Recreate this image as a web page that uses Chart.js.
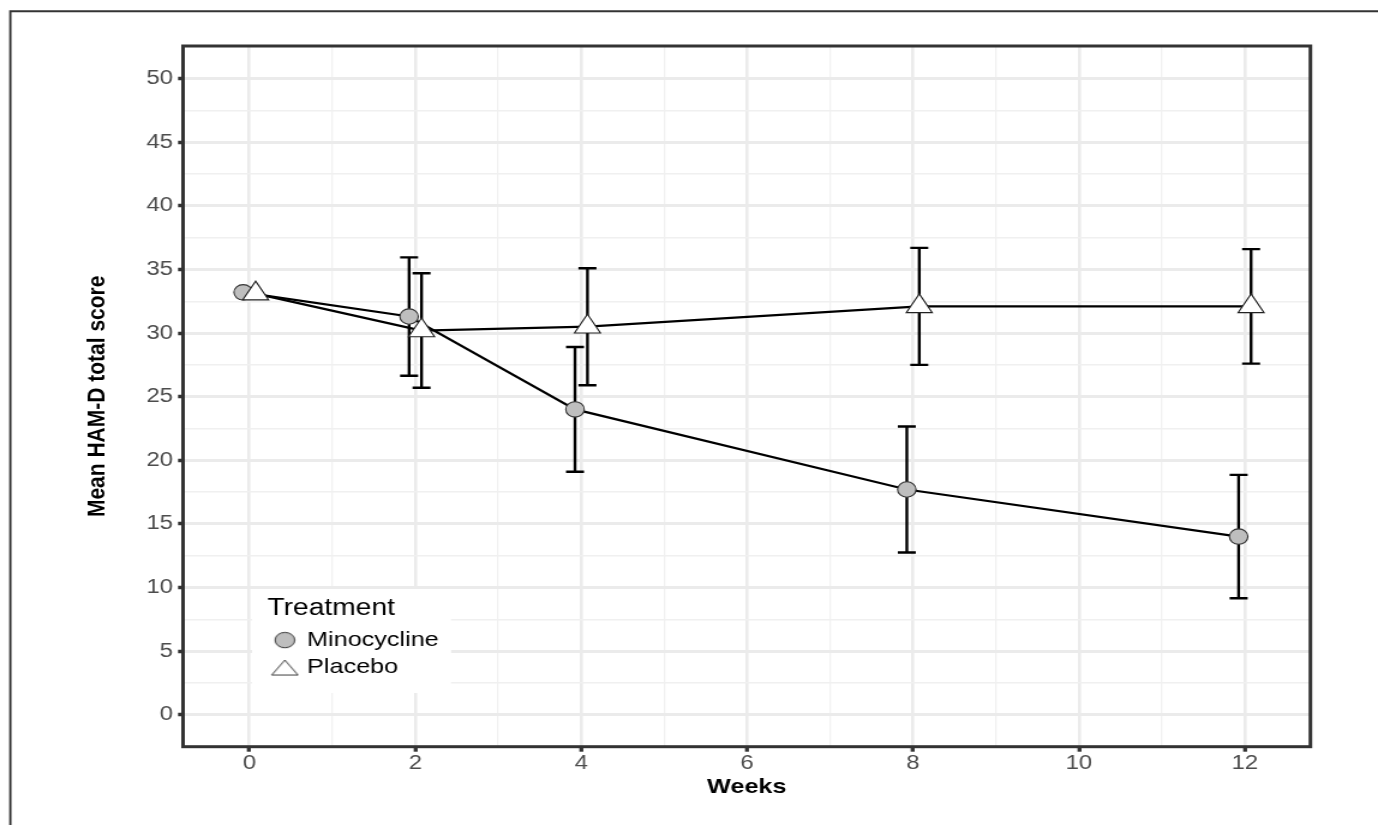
<!DOCTYPE html>
<html>
<head>
<meta charset="utf-8">
<title>Mean HAM-D total score by week</title>
<script src="https://cdn.jsdelivr.net/npm/chart.js@4.4.1/dist/chart.umd.min.js"></script>
<style>
  html, body { margin: 0; padding: 0; background: #fff; }
  #hamd { display: block; }
</style>
</head>
<body>
<!-- drawn at 1148 wide and stretched to 1378, like the original figure -->
<canvas id="hamd" width="1148" height="825" style="width:1378px;height:825px"></canvas>
<script>
const weeks = [0, 2, 4, 8, 12];
const seriesNames = ['Minocycline', 'Placebo'];
const minoMean = [33.2, 31.3, 24.0, 17.7, 14.0];
const minoErr = [null, 4.65, 4.9, 4.95, 4.85];
const placeboMean = [33.1, 30.2, 30.5, 32.1, 32.1];
const placeboErr = [null, 4.5, 4.6, 4.6, 4.5];
const xTicks = [0, 2, 4, 6, 8, 10, 12];
const yTicks = [0, 5, 10, 15, 20, 25, 30, 35, 40, 45, 50];

const FONT = '"Liberation Sans", Arial, Helvetica, sans-serif';
const dodge = 0.075;

// majors plus a minor tick halfway between each pair (ggplot style)
function withMinors(major) {
  const out = [];
  major.forEach((v, i) => {
    out.push({ value: v });
    if (i < major.length - 1) out.push({ value: (v + major[i + 1]) / 2, minor: true });
  });
  return out;
}

function marker(kind, w, h, fill) {
  const c = document.createElement('canvas');
  c.width = Math.ceil(w + 2);
  c.height = Math.ceil(h + 2);
  const g = c.getContext('2d');
  g.fillStyle = fill;
  g.strokeStyle = '#333';
  g.lineWidth = 1;
  g.beginPath();
  if (kind === 'circle') {
    g.ellipse(c.width / 2, c.height / 2, w / 2, h / 2, 0, 0, Math.PI * 2);
  } else {
    g.moveTo(c.width / 2, 1);
    g.lineTo(c.width / 2 + w / 2, h + 1);
    g.lineTo(c.width / 2 - w / 2, h + 1);
    g.closePath();
  }
  g.fill();
  g.stroke();
  return c;
}
const legendMarks = [marker('circle', 16.4, 15.4, '#bebebe'), marker('triangle', 22, 15, '#fff')];

const legendBox = { left: 222.8, top: 597.25, right: 375.8, bottom: 693 };

const gridColor = ctx => ctx.tick && ctx.tick.minor ? '#f0f0f0' : '#ebebeb';
const tickColor = ctx => ctx.tick && ctx.tick.minor ? 'rgba(0,0,0,0)' : '#333';
const tickLabel = (v, i, ticks) => ticks[i].minor ? '' : v;

const extras = {
  id: 'extras',
  afterLayout(chart) {
    const lg = chart.legend;
    Object.assign(lg, legendBox);
    lg.width = legendBox.right - legendBox.left;
    lg.height = legendBox.bottom - legendBox.top;
  },
  beforeDatasetsDraw(chart) {
    const { ctx } = chart;
    // legend key sits on a white box over the grid
    ctx.save();
    ctx.fillStyle = '#fff';
    ctx.fillRect(210, 589, 165.8, 104);
    ctx.restore();
    chart.legend.draw();

    const xs = chart.scales.x, ys = chart.scales.y;
    ctx.save();
    ctx.strokeStyle = '#000';
    ctx.lineWidth = 2.4;
    chart.data.datasets.forEach(ds => {
      ds.data.forEach((p, i) => {
        const e = ds.errors[i];
        if (e == null) return;
        const x = xs.getPixelForValue(p.x);
        const y1 = ys.getPixelForValue(p.y + e);
        const y2 = ys.getPixelForValue(p.y - e);
        ctx.beginPath();
        ctx.moveTo(x, y1); ctx.lineTo(x, y2);
        ctx.moveTo(x - 7.5, y1); ctx.lineTo(x + 7.5, y1);
        ctx.moveTo(x - 7.5, y2); ctx.lineTo(x + 7.5, y2);
        ctx.stroke();
      });
    });
    ctx.restore();
  },
  afterDraw(chart) {
    const { ctx, chartArea: a } = chart;
    ctx.save();
    ctx.strokeStyle = '#333';
    ctx.lineWidth = 3;
    ctx.strokeRect(a.left, a.top, a.right - a.left, a.bottom - a.top);
    // outer frame of the figure (only top and left show)
    ctx.lineWidth = 1.9;
    ctx.beginPath();
    ctx.moveTo(8.6, 825);
    ctx.lineTo(8.6, 11.2);
    ctx.lineTo(1148, 11.2);
    ctx.stroke();
    ctx.restore();
  }
};

const ctx = document.getElementById('hamd').getContext('2d');
const chart = new Chart(ctx, {
  type: 'line',
  data: {
    datasets: [
      {
        label: seriesNames[0],
        data: weeks.map((w, i) => ({ x: w - dodge, y: minoMean[i] })),
        errors: minoErr,
        order: 1,
        borderColor: '#000',
        borderWidth: 2.2,
        tension: 0,
        pointStyle: 'circle',
        pointRadius: 7.7,
        pointBackgroundColor: '#bebebe',
        pointBorderColor: '#333',
        pointBorderWidth: 1.1
      },
      {
        label: seriesNames[1],
        data: weeks.map((w, i) => ({ x: w + dodge, y: placeboMean[i] })),
        errors: placeboErr,
        order: 0,
        borderColor: '#000',
        borderWidth: 2.2,
        tension: 0,
        pointStyle: 'triangle',
        pointRadius: 12.5,
        pointBackgroundColor: '#fff',
        pointBorderColor: '#222',
        pointBorderWidth: 1.1
      }
    ]
  },
  options: {
    responsive: false,
    animation: false,
    devicePixelRatio: 1,
    events: [],
    layout: { padding: { top: 46, right: 56.33, bottom: 0, left: 0 } },
    scales: {
      x: {
        type: 'linear',
        min: -0.8,
        max: 12.79,
        afterBuildTicks: s => { s.ticks = withMinors(xTicks); },
        afterFit: s => { s.height = 78.3; },
        border: { display: false },
        grid: {
          color: gridColor,
          lineWidth: c => c.tick && c.tick.minor ? 1.3 : 2.6,
          tickColor: tickColor,
          tickWidth: 3.3,
          tickLength: 5
        },
        ticks: { autoSkip: false, maxRotation: 0, padding: 0, color: '#4d4d4d', font: { family: FONT, size: 20 }, callback: tickLabel },
        title: { display: true, text: 'Weeks', color: '#000', font: { family: FONT, size: 21, weight: 'bold' }, padding: { top: 0, bottom: 25.4 } }
      },
      y: {
        type: 'linear',
        min: -2.52,
        max: 52.57,
        afterBuildTicks: s => { s.ticks = withMinors(yTicks); },
        afterFit: s => { s.width = 152.5; },
        border: { display: false },
        grid: {
          color: gridColor,
          lineWidth: c => c.tick && c.tick.minor ? 1.5 : 3,
          tickColor: tickColor,
          tickWidth: 3.5,
          tickLength: 4.2
        },
        ticks: { autoSkip: false, padding: 4.1, color: '#4d4d4d', font: { family: FONT, size: 20 }, callback: tickLabel },
        title: { display: true, text: 'Mean HAM-D total score', color: '#000', font: { family: FONT, size: 21, weight: 'bold' }, padding: { top: 68.9, bottom: 0 } }
      }
    },
    plugins: {
      tooltip: { enabled: false },
      legend: {
        position: 'chartArea',
        align: 'start',
        title: {
          display: true,
          text: 'Treatment',
          position: 'start',
          color: '#000',
          padding: 0,
          font: { family: FONT, size: 23.5, lineHeight: 1.1 }
        },
        labels: {
          usePointStyle: true,
          boxWidth: 16,
          boxHeight: 16,
          padding: 6.5,
          color: '#000',
          font: { family: FONT, size: 21 },
          sort: (a, b) => a.datasetIndex - b.datasetIndex,
          generateLabels: c => {
            const items = Chart.defaults.plugins.legend.labels.generateLabels(c);
            items.forEach(it => { it.pointStyle = legendMarks[it.datasetIndex]; });
            return items;
          }
        }
      }
    }
  },
  plugins: [extras]
});
</script>
</body>
</html>
